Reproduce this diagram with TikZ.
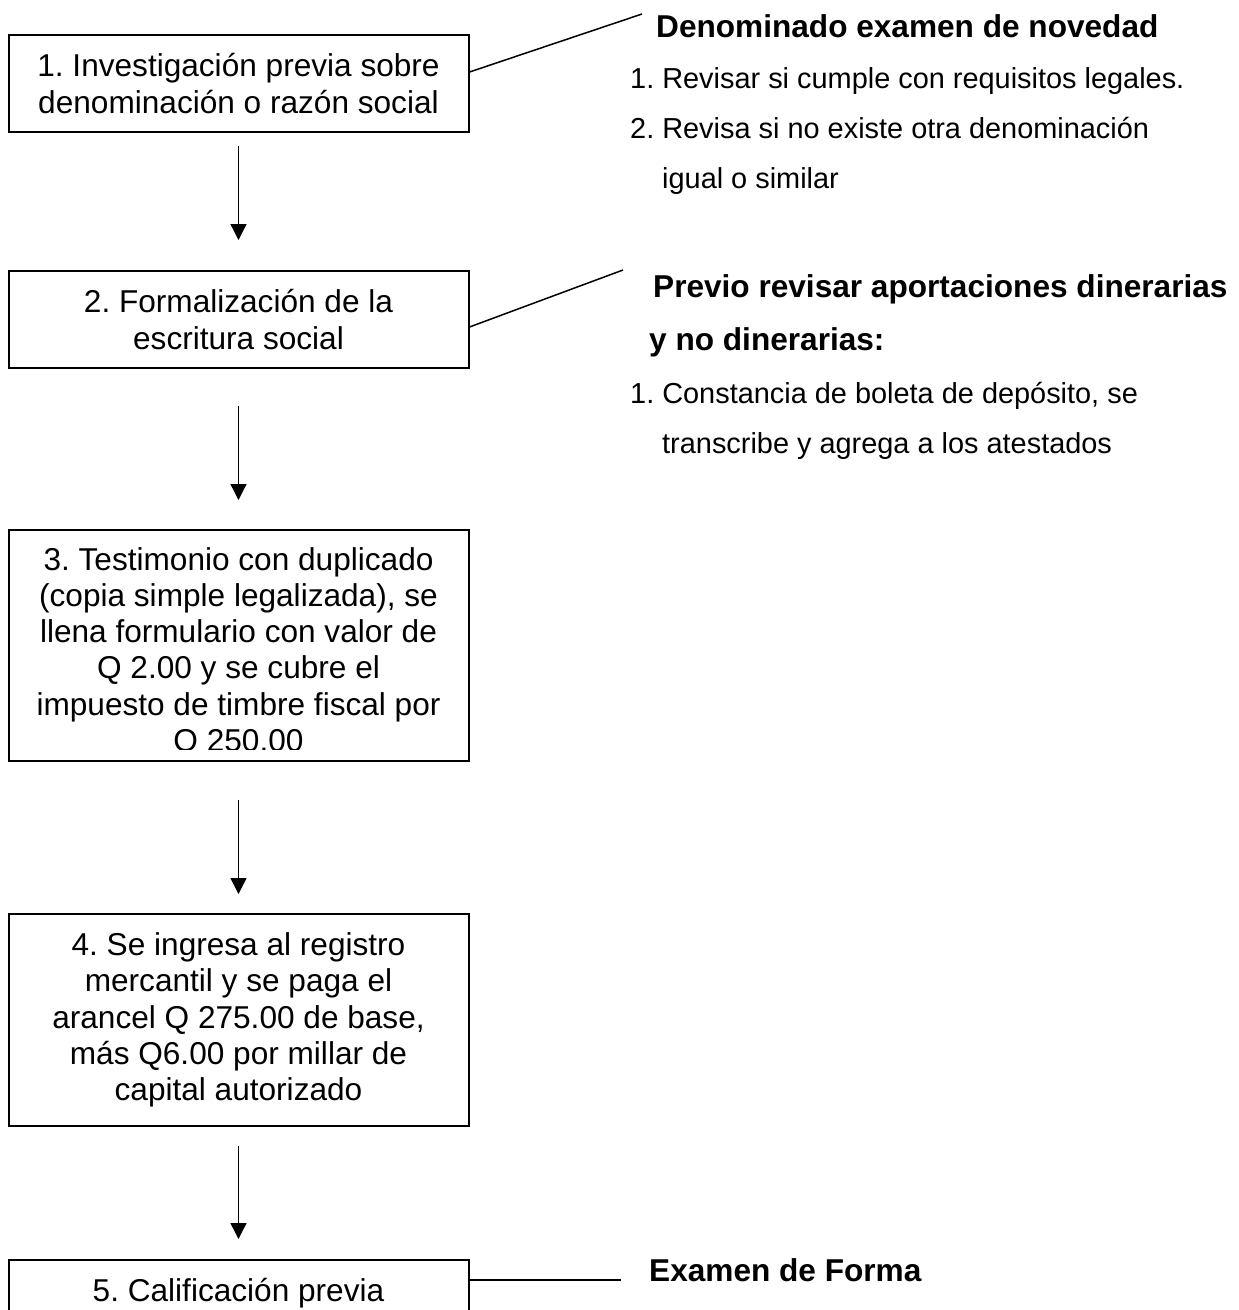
\documentclass[tikz,border=0pt]{standalone}
\usepackage{fontspec}
\setmainfont{Liberation Sans}
\usetikzlibrary{arrows.meta}
\frenchspacing
\begin{document}
\begin{tikzpicture}[x=1pt,y=-1pt,
  box/.style={draw, line width=2pt, minimum width=460pt, inner sep=0pt,
    align=center, anchor=north west, font=\fontsize{31.6}{36.25}\selectfont},
  boxtext/.style={inner sep=0pt, align=center, anchor=north,
    font=\fontsize{31.6}{36.25}\selectfont},
  arr/.style={line width=1.3pt, -{Triangle[width=16pt,length=16pt]}},
  conn/.style={line width=1.5pt},
  hd/.style={anchor=base west, inner sep=0pt, font=\fontsize{31.6}{36}\selectfont\bfseries},
  item/.style={anchor=base west, inner sep=0pt, font=\fontsize{28.9}{34}\selectfont}]
\useasboundingbox (0,0) rectangle (1239,1310);
\clip (0,0) rectangle (1239,1310);

% boxes
\node[box, minimum height=97pt] (b1) at (7.5,34)
  {1. Investigación previa sobre\\denominación o razón social};
\node[box, minimum height=97pt] (b2) at (7.5,270)
  {2. Formalización de la\\escritura social};
\node[box, minimum height=231pt] (b3) at (7.5,529) {};
\node[box, minimum height=212pt] (b4) at (7.5,913)
  {4. Se ingresa al registro\\mercantil y se paga el\\arancel Q 275.00 de base,\\más Q6.00 por millar de\\capital autorizado};
\node[box, minimum height=66pt] (b5) at (7.5,1259)
  {5. Calificación previa};

\begin{scope}
  \clip (7.5,529) rectangle (467.5,749);
  \node[boxtext] (t3) at ([yshift=-18pt]b3.north)
    {3. Testimonio con duplicado\\(copia simple legalizada), se\\llena formulario con valor de\\Q 2.00 y se cubre el\\impuesto de timbre fiscal por\\Q 250.00};
\end{scope}

% arrows
\draw[arr] ([yshift=-13pt]b1.south) -- ([yshift=30pt]b2.north);
\draw[arr] ([yshift=-37pt]b2.south) -- ([yshift=29pt]b3.north);
\draw[arr] ([yshift=-38pt]b3.south) -- ([yshift=19pt]b4.north);
\draw[arr] ([yshift=-19pt]b4.south) -- ([yshift=20pt]b5.north);

% side notes
\coordinate (e1) at (642,14);
\coordinate (e2) at (623,270);
\coordinate (e5) at (621,1280);
\draw[conn] ([yshift=-38pt]b1.north east) -- (e1);
\draw[conn] ([yshift=-57pt]b2.north east) -- (e2);
\draw[conn] ([yshift=-21pt]b5.north east) -- (e5);

\node[hd] (h1) at (656,37) {Denominado examen de novedad};
\node[item] (r1) at (630,88) {1. Revisar si cumple con requisitos legales.};
\node[item] (r2) at (630,138) {2. Revisa si no existe otra denominación};
\node[item] (r3) at (662,188) {igual o similar};

\node[hd] (h2) at (653,297) {Previo revisar aportaciones dinerarias};
\node[hd] (h3) at (649,350) {y no dinerarias:};
\node[item] (r4) at (630,403) {1. Constancia de boleta de depósito, se};
\node[item] (r5) at (662,453) {transcribe y agrega a los atestados};

\node[hd] (h4) at (649,1281) {Examen de Forma};
\end{tikzpicture}
\end{document}
